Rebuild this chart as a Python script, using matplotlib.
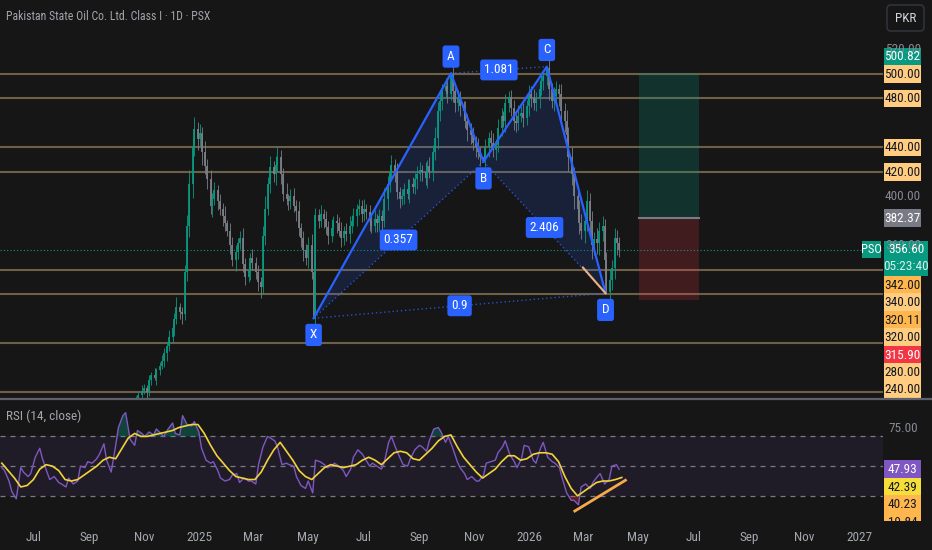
import matplotlib
matplotlib.use("Agg")
import matplotlib.pyplot as plt
import matplotlib.dates as mdates
import matplotlib.font_manager as fm
from matplotlib.patches import FancyBboxPatch, Rectangle, Polygon
import numpy as np
import pandas as pd

# ---------------- data ----------------
title = "Pakistan State Oil Co. Ltd. Class I · 1D · PSX"
candle_start = "2024-10-01"
closes = [205, 208, 212, 210, 216, 220, 224, 229, 233, 238,
          241, 244, 240, 250, 254, 252, 258, 262, 266, 272,
          278, 285, 293, 300, 310, 306, 304, 338, 376, 410,
          440, 455, 447, 452, 436, 425, 414, 392, 398, 405,
          396, 390, 384, 378, 372, 360, 348, 355, 362, 366,
          345, 334, 340, 350, 346, 338, 330, 326, 368, 390,
          410, 424, 418, 426, 432, 418, 402, 398, 396, 400,
          392, 388, 374, 366, 356, 350, 360, 338, 301, 385,
          380, 386, 382, 375, 368, 374, 380, 378, 372, 366,
          372, 369, 376, 380, 384, 390, 392, 386, 390, 387,
          380, 376, 382, 378, 384, 380, 398, 410, 420, 426,
          420, 404, 398, 400, 406, 402, 410, 408, 414, 418,
          422, 420, 415, 425, 420, 436, 448, 470, 478, 486,
          490, 484, 499, 486, 476, 480, 474, 470, 462, 454,
          450, 444, 440, 436, 432, 429, 440, 448, 444, 438,
          442, 456, 466, 462, 476, 481, 472, 462, 460, 466,
          468, 464, 474, 484, 480, 476, 480, 488, 494, 498,
          505, 488, 478, 482, 488, 484, 470, 462, 450, 432,
          418, 400, 390, 378, 372, 380, 396, 380, 360, 365,
          362, 372, 376, 348, 322, 332, 342, 366, 362, 356.6]
wick_hi = [3, 2, 4, 1, 3, 5, 2, 3, 4, 2,
           5, 3, 2, 4, 3, 6, 2, 3, 5, 4,
           3, 6, 4, 5, 8, 3, 4, 6, 9, 12,
           8, 10, 6, 7, 5, 9, 6, 8, 5, 7,
           4, 6, 5, 8, 3, 6, 7, 5, 4, 6,
           8, 5, 6, 4, 7, 5, 6, 4, 8, 10,
           6, 9, 5, 7, 8, 6, 5, 9, 4, 6,
           7, 5, 8, 4, 6, 5, 7, 9, 12, 6,
           5, 7, 4, 6, 5, 8, 4, 6, 5, 7,
           4, 6, 8, 5, 7, 4, 6, 5, 8, 4,
           6, 5, 7, 4, 6, 5, 9, 7, 6, 8,
           5, 7, 4, 6, 5, 8, 4, 6, 5, 7,
           6, 4, 8, 5, 7, 6, 9, 7, 8, 6,
           7, 5, 1, 8, 5, 7, 6, 4, 8, 5,
           6, 7, 5, 8, 4, 6, 7, 5, 6, 8,
           5, 7, 6, 4, 8, 5, 6, 7, 5, 9,
           6, 8, 5, 7, 6, 8, 5, 7, 6, 4,
           1, 8, 5, 7, 6, 4, 8, 6, 9, 7,
           8, 6, 9, 7, 8, 6, 9, 7, 8, 6,
           9, 7, 8, 6, 7, 9, 6, 8, 7, 5]
wick_lo = [2, 4, 3, 2, 5, 3, 4, 2, 3, 5,
           4, 2, 5, 3, 4, 2, 6, 4, 3, 5,
           6, 4, 5, 7, 4, 6, 8, 5, 7, 9,
           11, 7, 9, 6, 10, 7, 8, 6, 9, 5,
           7, 5, 8, 6, 4, 7, 5, 9, 6, 5,
           7, 6, 4, 8, 6, 5, 7, 9, 6, 8,
           5, 7, 6, 9, 5, 8, 6, 5, 7, 6,
           5, 8, 6, 7, 9, 6, 8, 5, 0, 10,
           6, 5, 8, 6, 7, 5, 6, 8, 4, 7,
           6, 5, 7, 6, 4, 8, 5, 7, 6, 5,
           8, 6, 5, 7, 6, 8, 5, 9, 6, 7,
           8, 6, 7, 5, 6, 4, 7, 5, 6, 8,
           5, 7, 6, 8, 5, 7, 6, 9, 8, 7,
           6, 8, 5, 9, 7, 6, 8, 7, 6, 9,
           7, 6, 8, 5, 7, 0, 5, 8, 7, 6,
           8, 6, 7, 5, 9, 7, 6, 8, 7, 6,
           5, 7, 6, 8, 7, 5, 6, 8, 5, 7,
           7, 9, 6, 8, 7, 10, 8, 9, 8, 11,
           9, 10, 8, 9, 7, 10, 8, 9, 11, 8,
           9, 10, 8, 11, 1, 7, 8, 9, 10, 6]

rsi_start = "2024-05-27"
rsi_vals = [49, 47, 40, 33, 28, 49, 46, 43, 45, 56,
            62, 55, 46, 41, 43, 39, 38, 36, 42, 38,
            40, 50, 49, 53, 52, 55, 58, 65, 54, 46,
            64, 76, 84, 86, 68, 64, 74, 72, 70, 73,
            71, 75, 72, 70, 75, 79, 72, 71, 84, 78,
            77, 80, 73, 62, 54, 52, 53, 47, 42, 40,
            41, 44, 45, 39, 42, 40, 40, 38, 51, 63,
            70, 69, 67, 63, 51, 52, 51, 50, 43, 37,
            35, 40, 32, 54, 53, 51, 49, 50, 52, 50,
            47, 43, 48, 56, 61, 58, 55, 50, 52, 50,
            48, 52, 66, 70, 62, 55, 51, 50, 55, 61,
            64, 63, 60, 67, 75, 76, 73, 66, 70, 62,
            53, 49, 45, 41, 43, 40, 40, 44, 52, 53,
            54, 59, 63, 67, 58, 53, 49, 55, 64, 63,
            54, 52, 62, 66, 56, 53, 52, 49, 42, 32,
            27, 27, 24, 36, 38, 35, 39, 43, 45, 38,
            41, 50, 51, 47.93]
rsi_ma_vals = [52, 47, 42, 36, 37, 41, 48, 51, 50, 47,
               41, 40, 41, 44, 47, 50, 54, 56, 55, 62,
               69, 72, 70, 70, 71, 72, 73, 74, 76, 77,
               78, 78, 72, 64, 57, 52, 47, 43, 42, 41,
               41, 46, 54, 61, 66, 60, 54, 47, 43, 41,
               45, 49, 51, 50, 49, 50, 51, 54, 56, 54,
               51, 55, 59, 60, 59, 55, 54, 58, 62, 67,
               70, 71, 63, 56, 51, 46, 42, 45, 48, 53,
               57, 57, 54, 55, 58, 59, 59, 58, 53, 43,
               35, 30, 33, 36, 39, 40, 40, 41, 42.39]

pattern_names = ["X", "A", "B", "C", "D"]
pattern_dates = ["2025-05-07", "2025-10-06", "2025-11-11", "2026-01-20", "2026-03-26"]
pattern_prices = [300.6, 500.6, 428.4, 506.0, 321.0]
ratio_pairs = [("X", "B"), ("A", "C"), ("B", "D"), ("X", "D")]
ratio_texts = ["0.357", "1.081", "2.406", "0.9"]

levels = [500, 480, 440, 420, 340, 320, 280, 240]
last_price = 356.60
countdown = "05:23:40"
pos_dates = ["2026-05-02", "2026-07-07"]
pos_entry, pos_target, pos_stop = 382.37, 500.82, 315.90
d_line_dates = ["2026-03-01", "2026-03-26"]
d_line_prices = [342.0, 321.0]
rsi_trend_dates = ["2026-02-20", "2026-04-17"]
rsi_trend_vals = [19.8, 40.5]

price_tags = [(500.82, "teal"), (500.00, "light"), (480.00, "light"), (440.00, "light"),
              (420.00, "light"), (382.37, "grey"), (342.00, "orange"), (340.00, "light"),
              (320.11, "orange"), (320.00, "light"), (315.90, "red"), (280.00, "light"),
              (240.00, "light")]
price_ticks = [520, 400, 360]
rsi_tags = [(47.93, "purple"), (42.39, "yellow"), (40.23, "orange"), (19.84, "orange")]
rsi_ticks = [75]
month_ticks = ["2024-07-01", "2024-09-01", "2024-11-01", "2025-01-01", "2025-03-01", "2025-05-01",
               "2025-07-01", "2025-09-01", "2025-11-01", "2026-01-01", "2026-03-01", "2026-05-01",
               "2026-07-01", "2026-09-01", "2026-11-01", "2027-01-01"]
month_labels = ["Jul", "Sep", "Nov", "2025", "Mar", "May", "Jul", "Sep", "Nov", "2026",
                "Mar", "May", "Jul", "Sep", "Nov", "2027"]
x_range = ["2024-05-25", "2027-01-27"]

# ---------------- style ----------------
names = {f.name for f in fm.fontManager.ttflist}
narrow = "DejaVu Sans"
for cand in ["Roboto Condensed", "Archivo Narrow", "PT Sans Narrow", "Barlow Semi Condensed",
             "Asap Condensed", "Cabin Condensed", "Liberation Sans"]:
    if cand in names:
        narrow = cand
        break
plt.rcParams["font.family"] = [narrow, "DejaVu Sans"]

BG = "#161616"
TXT = "#a3a6ae"
BLUE = "#2962ff"
UP = "#089981"
DOWN = "#7c7f88"
TAGC = {"teal": ("#089981", "white"), "light": ("#ffcc80", "#131722"),
        "orange": ("#ffb74d", "#131722"), "grey": ("#787b86", "white"),
        "red": ("#f23645", "white"), "purple": ("#7e57c2", "white"),
        "yellow": ("#f5dd3a", "#131722")}
FS = 9.5

W, H = 932, 550
fig = plt.figure(figsize=(W / 100, H / 100), dpi=100, facecolor=BG)
CH_R = 883
ax = fig.add_axes([0, 1 - 398 / H, CH_R / W, 398 / H])
ax2 = fig.add_axes([0, 1 - 521 / H, CH_R / W, 121 / H])
for a in (ax, ax2):
    a.set_facecolor(BG)
    for s in a.spines.values():
        s.set_visible(False)
    a.tick_params(left=False, right=False, labelleft=False, labelright=False)

xl = mdates.date2num(pd.to_datetime(x_range))
ax.set_xlim(*xl)
ax2.set_xlim(*xl)
ax.set_ylim(235.5, 560.4)
ax2.set_ylim(13.1, 94.5)

# ---------------- main price panel ----------------
for lv in levels:
    ax.axhline(lv, color="#6e6048", lw=1.5, zorder=1)

cd = mdates.date2num(pd.bdate_range(candle_start, periods=len(closes), freq="2B"))
c = np.array(closes, dtype=float)
o = np.concatenate([[c[0]], c[:-1]])
hi = np.maximum(o, c) + np.array(wick_hi)
lo = np.minimum(o, c) - np.array(wick_lo)
cols = [UP if cc >= oo else DOWN for oo, cc in zip(o, c)]
ax.vlines(cd, lo, hi, colors=cols, lw=0.6, zorder=3)
ax.vlines(cd, np.minimum(o, c), np.maximum(o, c), colors=cols, lw=1.3, zorder=3)

ax.axhline(last_price, color=UP, lw=0.8, ls=(0, (1, 2)), zorder=2)

pdn = mdates.date2num(pd.to_datetime(pattern_dates))
P = {n: (x, y) for n, x, y in zip(pattern_names, pdn, pattern_prices)}
for tri in (("X", "A", "B"), ("B", "C", "D")):
    ax.add_patch(Polygon([P[k] for k in tri], closed=True, fc=BLUE, alpha=0.15, ec="none", zorder=2))
ax.plot(pdn, pattern_prices, color=BLUE, lw=1.6, zorder=4)
for (p1, p2), t in zip(ratio_pairs, ratio_texts):
    (x1, y1), (x2, y2) = P[p1], P[p2]
    ax.plot([x1, x2], [y1, y2], color=BLUE, lw=1.0, alpha=0.8, ls=(0, (1, 2)), zorder=4)
    ax.text((x1 + x2) / 2, (y1 + y2) / 2, t, color="white", fontsize=FS, ha="center", va="center",
            zorder=6, bbox=dict(boxstyle="round,pad=0.3,rounding_size=0.2", fc=BLUE, ec="none"))
for n in pattern_names:
    up = n in ("A", "C")
    ax.annotate(n, P[n], xytext=(0, 12 if up else -12), textcoords="offset points",
                color="white", fontsize=FS, ha="center", va="center", zorder=6,
                bbox=dict(boxstyle="round,pad=0.35,rounding_size=0.2", fc=BLUE, ec="none"))

ax.plot(mdates.date2num(pd.to_datetime(d_line_dates)), d_line_prices, color="#f0b27a", lw=1.5, zorder=4)

pxd = mdates.date2num(pd.to_datetime(pos_dates))
ax.fill_between(pxd, pos_entry, pos_target, color=UP, alpha=0.22, lw=0, zorder=2)
ax.fill_between(pxd, pos_stop, pos_entry, color="#f23645", alpha=0.2, lw=0, zorder=2)
ax.plot(pxd, [pos_entry, pos_entry], color="#787b86", lw=1.5, zorder=3)

# ---------------- RSI panel ----------------
rd = mdates.date2num(pd.bdate_range(rsi_start, periods=len(rsi_vals), freq="3B"))
md = mdates.date2num(pd.bdate_range(rsi_start, periods=len(rsi_ma_vals), freq="5B"))
r = np.array(rsi_vals, dtype=float)
ax2.axhspan(30, 70, color="#7e57c2", alpha=0.1, lw=0, zorder=0)
for lv in (70, 50, 30):
    ax2.axhline(lv, color="#787b86", lw=0.9, ls=(0, (4, 4)), zorder=1)
ax2.fill_between(rd, 70, r, where=r > 70, interpolate=True, color=UP, alpha=0.35, lw=0, zorder=2)
ax2.fill_between(rd, 30, r, where=r < 30, interpolate=True, color="#f23645", alpha=0.3, lw=0, zorder=2)
ax2.plot(rd, r, color="#7e57c2", lw=1.0, zorder=3)
ax2.plot(md, rsi_ma_vals, color="#f2d33c", lw=1.2, zorder=4)
ax2.plot(mdates.date2num(pd.to_datetime(rsi_trend_dates)), rsi_trend_vals, color="#f5a94a", lw=2.0, zorder=5)

ax2.set_xticks(mdates.date2num(pd.to_datetime(month_ticks)))
ax2.set_xticklabels(month_labels)
ax2.tick_params(axis="x", bottom=False, labelbottom=True, pad=4, colors=TXT, labelsize=FS)

# ---------------- overlay (axis tags, title) ----------------
ov = fig.add_axes([0, 0, 1, 1], zorder=10)
ov.set_xlim(0, W)
ov.set_ylim(H, 0)
ov.axis("off")
ov.patch.set_alpha(0)


def ypx(a, v):
    return H - a.transData.transform((a.get_xlim()[0], v))[1]


ov.text(6, 17, title, color=TXT, fontsize=8.5, va="center", ha="left")
ov.text(6, 416, "RSI (14, close)", color=TXT, fontsize=FS, va="center", ha="left")
ov.plot([0, W], [398.5, 398.5], color="#5d606b", lw=1.6)
ov.add_patch(FancyBboxPatch((887, 5), 37, 26, boxstyle="round,pad=0,rounding_size=4",
                            fc=BG, ec="#2f323b", lw=1.2))
ov.text(905.5, 18, "PKR", color="#d1d4dc", fontsize=FS, ha="center", va="center")

for t in price_ticks:
    ov.text(903, ypx(ax, t), f"{t:.2f}", color="#868993", fontsize=FS, ha="center", va="center")
for t in rsi_ticks:
    ov.text(903, ypx(ax2, t), f"{t:.2f}", color="#868993", fontsize=FS, ha="center", va="center")

PH = 17.5


def pill(yc, txt, kind, clip=None, w=37):
    fc, tc = TAGC[kind]
    rect = Rectangle((884, yc - PH / 2), w, PH, fc=fc, ec="none")
    ov.add_patch(rect)
    tx = ov.text(884 + w / 2, yc + 0.5, txt, color=tc, fontsize=FS, ha="center", va="center")
    if clip is not None:
        cr = Rectangle((0, 0), W, clip, transform=ov.transData)
        rect.set_clip_path(cr)
        tx.set_clip_path(cr)


def stack(tags, axis, start_top, bottom_limit, clip=None):
    prev = start_top
    placed = []
    for v, kind in tags:
        top = max(ypx(axis, v) - PH / 2, prev)
        placed.append([top, v, kind])
        prev = top + PH
    if clip is None and placed and placed[-1][0] + PH > bottom_limit:
        placed[-1][0] = bottom_limit - PH
    for top, v, kind in placed:
        pill(top + PH / 2, f"{v:.2f}", kind, clip=clip)
    return placed


cur_top = ypx(ax, last_price) - PH / 2
ov.add_patch(Rectangle((884, cur_top), 44, 35, fc=UP, ec="none"))
ov.text(906, cur_top + 9, f"{last_price:.2f}", color="white", fontsize=FS, ha="center", va="center")
ov.text(906, cur_top + 26, countdown, color="#d8f0ea", fontsize=FS, ha="center", va="center")
ov.add_patch(Rectangle((862, cur_top), 19, PH, fc=UP, ec="none"))
ov.text(871.5, cur_top + PH / 2, "PSO", color="white", fontsize=FS - 0.5, ha="center", va="center")

above = [t for t in price_tags if t[0] > last_price]
below = [t for t in price_tags if t[0] < last_price]
tops = stack(above[1:], ax, -1e9, 1e9)
pill(tops[0][0] - PH / 2, f"{above[0][0]:.2f}", above[0][1])
stack(below, ax, cur_top + 35, 398)

stack(rsi_tags, ax2, -1e9, 1e9, clip=520.5)

fig.savefig("out.png", dpi=100, facecolor=BG)
